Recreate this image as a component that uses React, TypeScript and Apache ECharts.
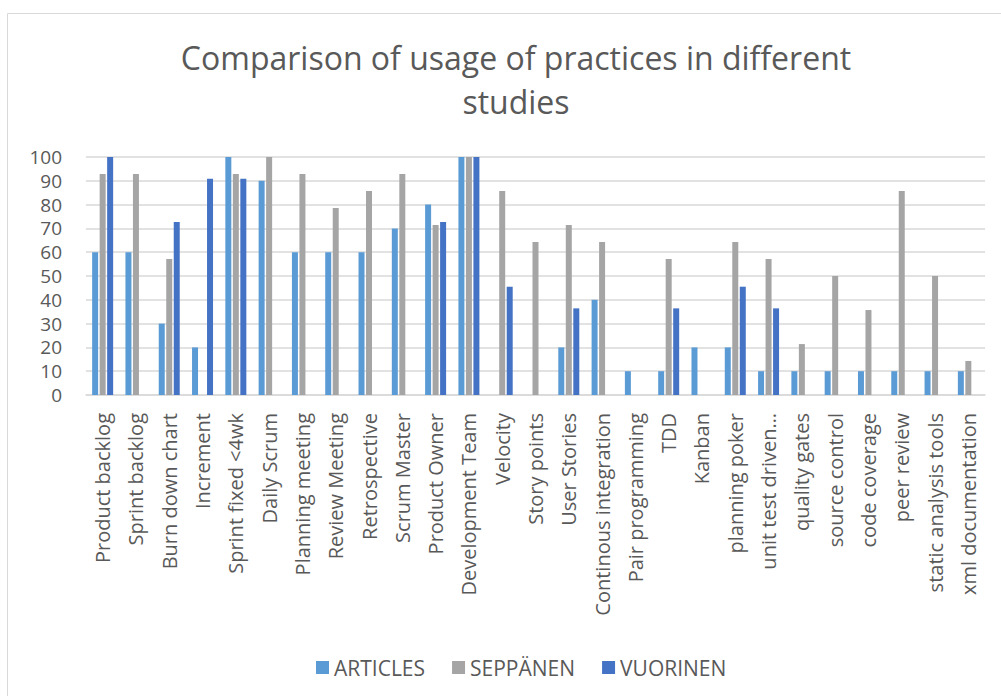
import React, { useEffect, useRef } from "react";
import * as echarts from "echarts";

const categories = [
  "Product backlog", "Sprint backlog", "Burn down chart", "Increment", "Sprint fixed <4wk",
  "Daily Scrum", "Planning meeting", "Review Meeting", "Retrospective", "Scrum Master",
  "Product Owner", "Development Team", "Velocity", "Story points", "User Stories",
  "Continous integration", "Pair programming", "TDD", "Kanban", "planning poker",
  "unit test driven…", "quality gates", "source control", "code coverage", "peer review",
  "static analysis tools", "xml documentation",
];

const articles = [60, 60, 30, 20, 100, 90, 60, 60, 60, 70, 80, 100, 0, 0, 20, 40, 10, 10, 20, 20, 10, 10, 10, 10, 10, 10, 10];
const seppanen = [92.9, 92.9, 57.1, 0, 92.9, 100, 92.9, 78.6, 85.7, 92.9, 71.4, 100, 85.7, 64.3, 71.4, 64.3, 0, 57.1, 0, 64.3, 57.1, 21.4, 50, 35.7, 85.7, 50, 14.3];
const vuorinen = [100, 0, 72.7, 90.9, 90.9, 0, 0, 0, 0, 0, 72.7, 100, 45.5, 0, 36.4, 0, 0, 36.4, 0, 45.5, 36.4, 0, 0, 0, 0, 0, 0];

const yTicks = { min: 0, max: 100, interval: 10 };

export default function App() {
  const ref = useRef<HTMLDivElement>(null);
  useEffect(() => {
    if (!ref.current) return;
    const chart = echarts.init(ref.current, undefined, { renderer: "svg" });
    const font = "'Open Sans', sans-serif";
    const grey = "#595959";
    const mk = (name: string, data: number[], color: string) => ({
      name,
      type: "bar",
      data,
      barWidth: 6,
      barGap: "25%",
      itemStyle: { color },
    });
    chart.setOption({
      animation: false,
      backgroundColor: "#ffffff",
      textStyle: { fontFamily: font },
      graphic: [
        {
          type: "rect",
          shape: { x: 7.5, y: 13.5, width: 1200, height: 900 },
          style: { fill: "none", stroke: "#d9d9d9", lineWidth: 1 },
          silent: true,
        },
      ],
      title: {
        text: "Comparison of usage of practices in different\nstudies",
        left: 511,
        top: 30,
        textAlign: "center",
        textStyle: { fontFamily: font, fontSize: 32, fontWeight: "normal", color: grey, lineHeight: 44 },
      },
      legend: {
        left: 311,
        top: 652,
        icon: "rect",
        itemWidth: 13,
        itemHeight: 13,
        itemGap: 27,
        textStyle: { fontFamily: font, fontSize: 21, color: grey },
        data: ["ARTICLES", "SEPPÄNEN", "VUORINEN"],
      },
      grid: { left: 86, right: 16, top: 157, bottom: 301 },
      xAxis: {
        type: "category",
        data: categories,
        axisLine: { lineStyle: { color: "#d9d9d9", width: 1.5 } },
        axisTick: { show: false },
        axisLabel: {
          rotate: 90,
          interval: 0,
          margin: 18,
          fontFamily: font,
          fontSize: 20,
          color: grey,
        },
      },
      yAxis: {
        type: "value",
        min: yTicks.min,
        max: yTicks.max,
        interval: yTicks.interval,
        axisLine: { show: false },
        axisTick: { show: false },
        splitLine: { lineStyle: { color: "#d9d9d9", width: 1.5 } },
        axisLabel: { fontFamily: font, fontSize: 19, lineHeight: 19, color: grey, margin: 24 },
      },
      series: [
        mk("ARTICLES", articles, "#5B9BD5"),
        mk("SEPPÄNEN", seppanen, "#A5A5A5"),
        mk("VUORINEN", vuorinen, "#4472C4"),
      ],
    });
    return () => chart.dispose();
  }, []);
  return (
    <div
      ref={ref}
      style={{ position: "absolute", left: 0, top: 0, width: 1001, height: 696 }}
    />
  );
}
